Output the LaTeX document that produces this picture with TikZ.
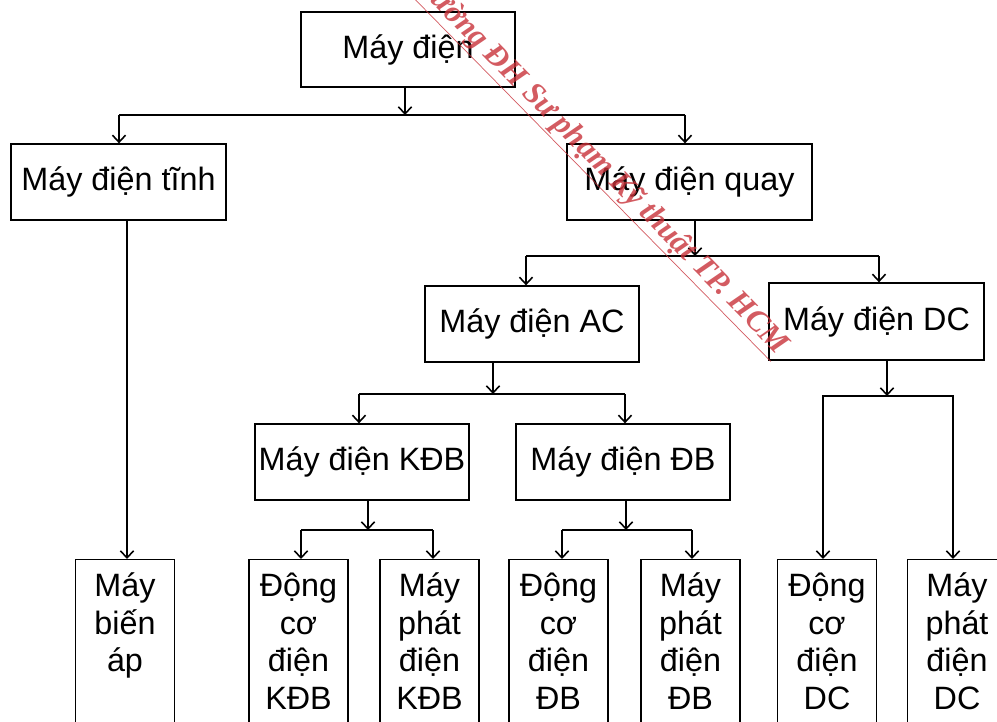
\documentclass[tikz,border=0pt]{standalone}
\usepackage{fontspec}
\setmainfont{Liberation Sans}
\newfontfamily\stampfont{Liberation Serif}
\usepackage{xcolor}
\usetikzlibrary{arrows.meta}
\definecolor{stamp}{HTML}{C8323A}
\tikzset{
  box/.style={draw, line width=0.75pt, inner sep=0pt, align=center},
  leaf/.style={draw, line width=0.75pt, inner sep=0pt, anchor=north,
    text width=1.98cm, align=center, text height=21pt, text depth=80pt},
  bus/.style={line width=1.3pt},
  arr/.style={line width=0.75pt, -{Straight Barb[length=4pt,width=7.5pt,line width=0.9pt]}},
  every node/.style={font=\fontsize{18.4pt}{21.4pt}\selectfont}
}

\begin{document}
\begin{tikzpicture}[x=0.02cm, y=-0.02cm]
  \useasboundingbox (0,0) rectangle (997,722);
  \clip (0,0) rectangle (997,722);

  % upper levels
  \node[box, minimum width=4.28cm, minimum height=1.50cm] (dien) at (408,49.5) {Máy điện};
  \node[box, minimum width=4.30cm, minimum height=1.52cm] (tinh) at (118.5,182) {Máy điện tĩnh};
  \node[box, minimum width=4.90cm, minimum height=1.52cm] (quay) at (689.5,182) {Máy điện quay};
  \node[box, minimum width=4.28cm, minimum height=1.52cm] (ac) at (532,324) {Máy điện AC};
  \node[box, minimum width=4.30cm, minimum height=1.54cm] (dc) at (876.5,321.5) {Máy điện DC};
  \node[box, minimum width=4.28cm, minimum height=1.52cm] (kdb) at (362,462) {Máy điện KĐB};
  \node[box, minimum width=4.28cm, minimum height=1.52cm] (db) at (623,462) {Máy điện ĐB};

  % leaves, open at the bottom
  \node[leaf] (bienap) at (125,559) {Máy\\biến\\áp};
  \node[leaf] (dckdb) at (298.5,559) {Động\\cơ\\điện\\KĐB};
  \node[leaf] (mpkdb) at (429.5,559) {Máy\\phát\\điện\\KĐB};
  \node[leaf] (dcdb) at (558.5,559) {Động\\cơ\\điện\\ĐB};
  \node[leaf] (mpdb) at (690.5,559) {Máy\\phát\\điện\\ĐB};
  \node[leaf] (dcdc) at (827,559) {Động\\cơ\\điện\\DC};
  \node[leaf] (mpdc) at (957,559) {Máy\\phát\\điện\\DC};

  % junction points on the bars
  \coordinate (j0) at (405,115);  \coordinate (j0l) at (119,115);  \coordinate (j0r) at (685,115);
  \coordinate (jq) at (695,256);  \coordinate (jql) at (526,256);  \coordinate (jqr) at (879,256);
  \coordinate (ja) at (493,394);  \coordinate (jal) at (359,394);  \coordinate (jar) at (625,394);
  \coordinate (jk) at (368,530);  \coordinate (jkl) at (301,530);  \coordinate (jkr) at (433,530);
  \coordinate (jb) at (626,530);  \coordinate (jbl) at (562,530);  \coordinate (jbr) at (692,530);
  \coordinate (jd) at (887,396);  \coordinate (jdl) at (823,540);  \coordinate (jdr) at (953,540);
  \coordinate (jt) at (127,540);

  % Máy điện
  \draw[arr] (dien.south -| j0) -- (j0);
  \draw[bus] (j0l) -- (j0r);
  \draw[arr] (j0l) -- (tinh.north -| j0l);
  \draw[arr] (j0r) -- (quay.north -| j0r);

  % tĩnh -> biến áp
  \draw[bus] (tinh.south -| jt) -- (jt);
  \draw[arr] (jt) -- (bienap.north -| jt);

  % quay
  \draw[arr] (quay.south -| jq) -- (jq);
  \draw[bus] (jql) -- (jqr);
  \draw[arr] (jql) -- (ac.north -| jql);
  \draw[arr] (jqr) -- (dc.north -| jqr);

  % AC
  \draw[arr] (ac.south -| ja) -- (ja);
  \draw[bus] (jal) -- (jar);
  \draw[arr] (jal) -- (kdb.north -| jal);
  \draw[arr] (jar) -- (db.north -| jar);

  % KĐB
  \draw[arr] (kdb.south -| jk) -- (jk);
  \draw[bus] (jkl) -- (jkr);
  \draw[arr] (jkl) -- (dckdb.north -| jkl);
  \draw[arr] (jkr) -- (mpkdb.north -| jkr);

  % ĐB
  \draw[arr] (db.south -| jb) -- (jb);
  \draw[bus] (jbl) -- (jbr);
  \draw[arr] (jbl) -- (dcdb.north -| jbl);
  \draw[arr] (jbr) -- (mpdb.north -| jbr);

  % DC, long legs
  \draw[arr] (dc.south -| jd) -- (jd);
  \draw[bus] (jdl) |- (jd) -| (jdr);
  \draw[arr] (jdl) -- (dcdc.north -| jdl);
  \draw[arr] (jdr) -- (mpdc.north -| jdr);

  % stamp across the sheet
  \node[rotate=-45.5, text=stamp, opacity=0.8, font=\stampfont\bfseries\itshape\fontsize{17.8pt}{20pt}\selectfont] (stamp) at (597,163)
    {\underline{Trường ĐH Sư phạm Kỹ thuật TP. HCM}};
\end{tikzpicture}
\end{document}
